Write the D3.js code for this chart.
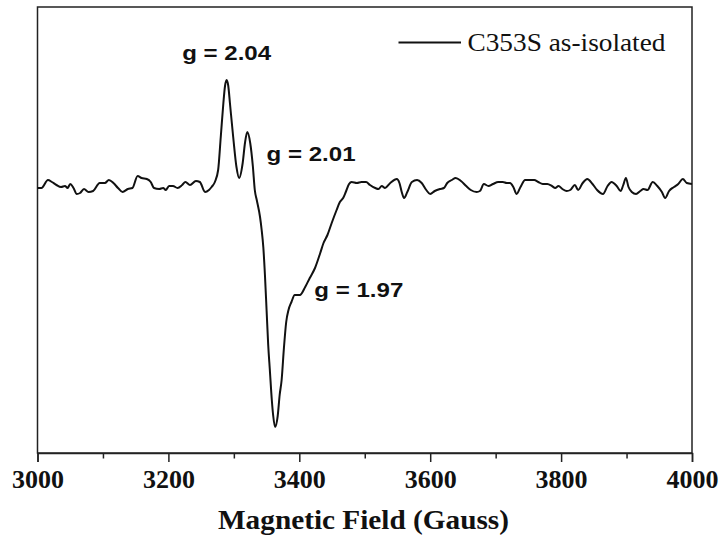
<!DOCTYPE html>
<html>
<head>
<meta charset="utf-8">
<script src="https://cdn.jsdelivr.net/npm/d3@7"></script>
<style>
  html, body { margin: 0; padding: 0; background: #fff; }
  svg { display: block; }
</style>
</head>
<body>
<svg id="chart" width="722" height="535"></svg>
<script>
// EPR spectrum, C353S as-isolated: magnetic field (G) vs. derivative intensity (a.u.)
const field = [
  3000, 3006, 3016, 3022, 3029, 3036, 3042, 3046, 3050, 3055, 3060, 3065, 3071, 3078, 3085,
  3095, 3103, 3109, 3116, 3123, 3130, 3138, 3145, 3153, 3159, 3167, 3173, 3178, 3186, 3192,
  3196, 3201, 3207, 3214, 3221, 3226, 3233, 3242, 3248, 3256, 3262, 3266, 3271, 3276, 3280,
  3284, 3286.5, 3289, 3291.5, 3294, 3299, 3304, 3308, 3313.5, 3317, 3320.5, 3325, 3329, 3332,
  3335, 3340, 3342.5, 3345, 3347.5, 3350, 3352.5, 3355, 3358, 3360, 3363, 3367, 3370, 3373,
  3376.5, 3380, 3383.5, 3388, 3393, 3401, 3409, 3416, 3424, 3432, 3437, 3443, 3449.5, 3457,
  3462, 3467, 3471, 3476, 3480, 3488, 3495, 3502, 3508, 3516, 3521, 3526, 3531, 3539, 3549,
  3553, 3556.5, 3560, 3565, 3572, 3580, 3587, 3594, 3600, 3607, 3615, 3621, 3626, 3633, 3639,
  3647, 3655, 3662, 3671, 3676, 3682, 3689, 3696, 3704, 3711, 3717, 3722, 3727, 3732, 3738,
  3745, 3752, 3759, 3765, 3772, 3779, 3786, 3791, 3796, 3802, 3808.5, 3814, 3821, 3826, 3833,
  3840, 3848, 3855, 3864, 3871, 3877, 3885, 3891, 3895, 3899, 3903, 3908, 3914.5, 3921, 3926,
  3932, 3940, 3947, 3954, 3959, 3965, 3972.5, 3979, 3986, 3992, 4000
];
const intensity = [
  -3, -3, 5, 3, 0, -2, -1, -3, 1, -3, -9, -8, -4, -7, -6,
  2, 2, 5, 2, -3, -7, -4, -3, 9, 7, 6, 3, -3, -4, -3,
  -5, -1, -1, -3, 0, 3, 0, 4, 3, -7, -5, -2, 3, 15, 48,
  82, 99, 105, 99, 82, 48, 18, 7, 22, 42, 53, 42, 19, -5,
  -15, -32, -45, -62, -90, -125, -160, -185, -215, -230, -242, -231, -210, -195,
  -163, -137, -125, -117, -110, -110, -102, -93, -83, -68, -58, -50, -38, -25,
  -17, -13, -7, 1, 3, 2, 3, 3, 0, -3, -4, -1, -3, 2, 6,
  2, -7, -13, -7, 3, 5, 2, -5, -9, -6, -4, -3, 2, 5, 7,
  4, -1, -5, -7, -6, 1, -1, 1, 3, 3, 2, 2, -2, -9, -2,
  5, 5, 5, 3, 1, 1, -1, -3, -1, -4, -6, -5, 0, -5, 2,
  6, 1, -5, -9, -1, 3, -1, -6, 0, 7, -2, -7, -9, -6, -4,
  -5, 3, -1, -7, -13, -6, -2, 1, 6, 2, 1
];

const majorTicks = [3000, 3200, 3400, 3600, 3800, 4000];
const minorTicks = [3100, 3300, 3500, 3700, 3900];

const annotations = [
  { text: "g = 2.04", field: 3221, value: 125 },
  { text: "g = 2.01", field: 3350, value: 24 },
  { text: "g = 1.97", field: 3423, value: -112 }
];
const legendLabel = "C353S as-isolated";
const xTitle = "Magnetic Field (Gauss)";

const svg = d3.select("#chart");
const plot = { left: 37.5, right: 692, top: 7, bottom: 453 };

const x = d3.scaleLinear().domain([3000, 4000]).range([plot.left, plot.right]);
const y = d3.scaleLinear().domain([-268, 178]).range([plot.bottom, plot.top]);

// frame
svg.append("rect")
  .attr("x", plot.left).attr("y", plot.top)
  .attr("width", plot.right - plot.left).attr("height", plot.bottom - plot.top)
  .attr("fill", "none").attr("stroke", "#222").attr("stroke-width", 1.5);

// bottom axis: labelled major ticks plus shorter minor ticks
const axisG = svg.append("g").attr("transform", `translate(0,${plot.bottom})`);
axisG.call(d3.axisBottom(x).tickValues(majorTicks).tickSize(9).tickPadding(8).tickFormat(d3.format("d")));
axisG.select(".domain").attr("stroke", "#222").attr("stroke-width", 1.5);
axisG.selectAll(".tick line").attr("stroke", "#222").attr("stroke-width", 1.5);
axisG.selectAll(".tick text")
  .attr("fill", "#111")
  .style("font-family", "'Liberation Serif', 'Times New Roman', serif")
  .style("font-weight", "bold")
  .style("font-size", "26px");

const minorG = svg.append("g").attr("transform", `translate(0,${plot.bottom})`);
minorG.call(d3.axisBottom(x).tickValues(minorTicks).tickSize(5.5).tickFormat(""));
minorG.select(".domain").remove();
minorG.selectAll(".tick line").attr("stroke", "#222").attr("stroke-width", 1.5);

// axis title
svg.append("text")
  .attr("x", 218).attr("y", 529)
  .attr("textLength", 291).attr("lengthAdjust", "spacingAndGlyphs")
  .style("font-family", "'Liberation Serif', 'Times New Roman', serif")
  .style("font-weight", "bold")
  .style("font-size", "27.5px")
  .attr("fill", "#111")
  .text(xTitle);

// spectrum trace
const pts = field.map((f, i) => [f, intensity[i]]);
const line = d3.line()
  .x(d => x(d[0]))
  .y(d => y(d[1]))
  .curve(d3.curveMonotoneX);

svg.append("path")
  .datum(pts)
  .attr("d", line)
  .attr("fill", "none")
  .attr("stroke", "#111")
  .attr("stroke-width", 2)
  .attr("stroke-linejoin", "round");

// g-value labels
svg.selectAll("text.gval")
  .data(annotations)
  .join("text")
  .attr("class", "gval")
  .attr("x", d => x(d.field))
  .attr("y", d => y(d.value))
  .attr("textLength", 89).attr("lengthAdjust", "spacingAndGlyphs")
  .style("font-family", "'Liberation Sans', Arial, sans-serif")
  .style("font-weight", "bold")
  .style("font-size", "20.5px")
  .attr("fill", "#111")
  .text(d => d.text);

// legend
const lg = svg.append("g");
lg.append("line")
  .attr("x1", 398.5).attr("x2", 461)
  .attr("y1", 42.5).attr("y2", 42.5)
  .attr("stroke", "#111").attr("stroke-width", 2);
lg.append("text")
  .attr("x", 467.5).attr("y", 50.5)
  .attr("textLength", 198).attr("lengthAdjust", "spacingAndGlyphs")
  .style("font-family", "'Liberation Serif', 'Times New Roman', serif")
  .style("font-size", "24.5px")
  .attr("fill", "#111")
  .text(legendLabel);
</script>
</body>
</html>
